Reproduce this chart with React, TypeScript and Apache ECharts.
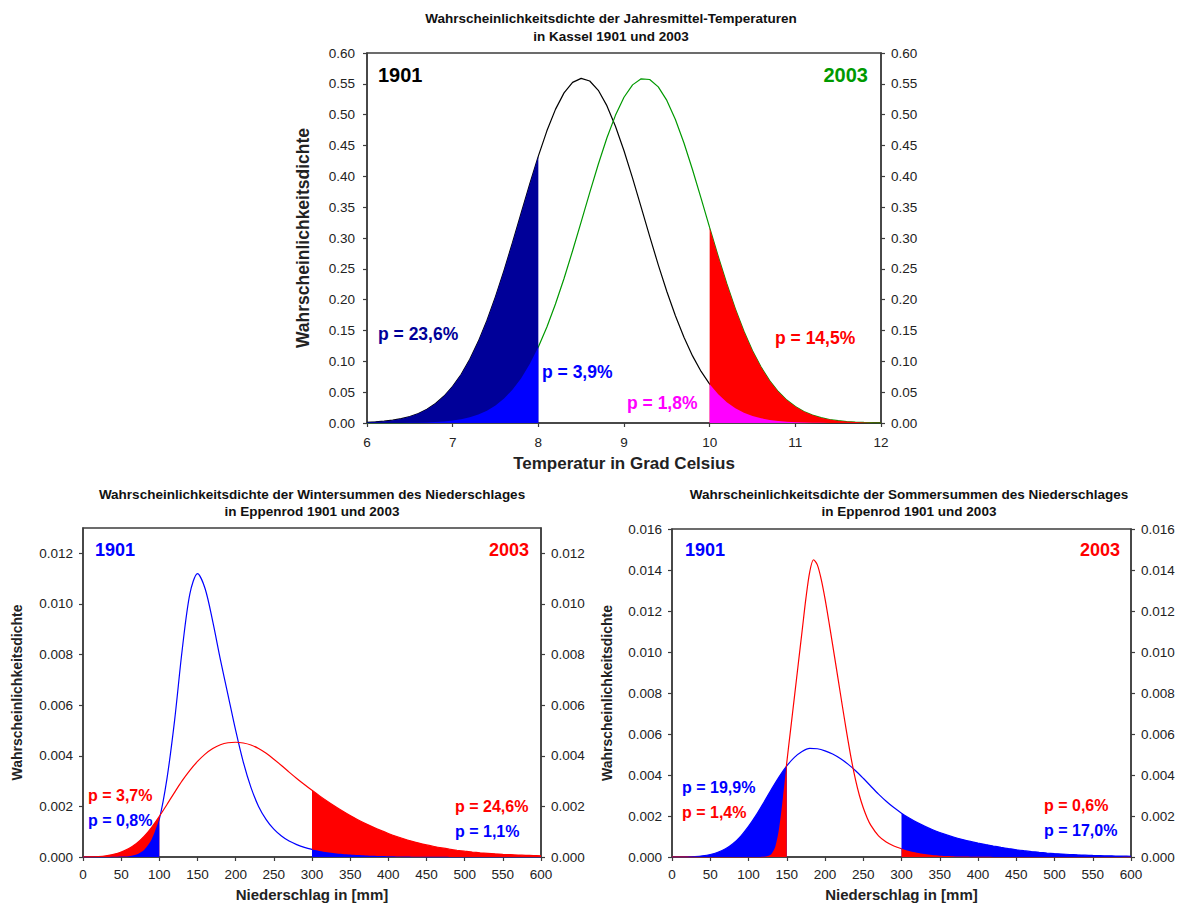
import React, { useEffect, useRef } from 'react';
import * as echarts from 'echarts';

// ---------- data ----------
const tempX = [6.0, 6.1, 6.2, 6.3, 6.4, 6.5, 6.6, 6.7, 6.8, 6.9, 7.0, 7.1, 7.2, 7.3, 7.4, 7.5, 7.6, 7.7, 7.8, 7.9, 8.0, 8.1, 8.2, 8.3, 8.4, 8.5, 8.6, 8.7, 8.8, 8.9, 9.0, 9.1, 9.2, 9.3, 9.4, 9.5, 9.6, 9.7, 9.8, 9.9, 10.0, 10.1, 10.2, 10.3, 10.4, 10.5, 10.6, 10.7, 10.8, 10.9, 11.0, 11.1, 11.2, 11.3, 11.4, 11.5, 11.6, 11.7, 11.8, 11.9, 12.0];
const temp1901 = [0.0011, 0.0019, 0.0029, 0.0046, 0.0070, 0.0105, 0.0155, 0.0223, 0.0315, 0.0437, 0.0594, 0.0791, 0.1034, 0.1324, 0.1664, 0.2050, 0.2476, 0.2932, 0.3405, 0.3877, 0.4328, 0.4738, 0.5086, 0.5353, 0.5524, 0.5589, 0.5546, 0.5395, 0.5146, 0.4813, 0.4414, 0.3970, 0.3500, 0.3026, 0.2565, 0.2132, 0.1738, 0.1389, 0.1088, 0.0836, 0.0630, 0.0465, 0.0337, 0.0239, 0.0167, 0.0114, 0.0076, 0.0050, 0.0032, 0.0020, 0.0013, 0.0008, 0.0005, 0.0003, 0.0002, 0.0001, 0.0000, 0.0000, 0.0000, 0.0000, 0.0000];
const temp2003 = [0.0000, 0.0000, 0.0001, 0.0001, 0.0002, 0.0004, 0.0006, 0.0010, 0.0016, 0.0026, 0.0040, 0.0062, 0.0093, 0.0138, 0.0200, 0.0285, 0.0397, 0.0543, 0.0727, 0.0956, 0.1232, 0.1557, 0.1929, 0.2344, 0.2793, 0.3262, 0.3737, 0.4196, 0.4621, 0.4989, 0.5282, 0.5483, 0.5581, 0.5570, 0.5451, 0.5231, 0.4921, 0.4540, 0.4106, 0.3642, 0.3167, 0.2701, 0.2258, 0.1851, 0.1488, 0.1173, 0.0907, 0.0687, 0.0510, 0.0372, 0.0266, 0.0186, 0.0128, 0.0086, 0.0057, 0.0037, 0.0023, 0.0015, 0.0009, 0.0005, 0.0003];

const rainX = [0, 10, 20, 30, 40, 50, 60, 70, 80, 90, 100, 110, 120, 130, 140, 150, 160, 170, 180, 190, 200, 210, 220, 230, 240, 250, 260, 270, 280, 290, 300, 310, 320, 330, 340, 350, 360, 370, 380, 390, 400, 410, 420, 430, 440, 450, 460, 470, 480, 490, 500, 510, 520, 530, 540, 550, 560, 570, 580, 590, 600];
const winter1901 = [0, 0, 0, 0, 0.00001, 0.00002, 0.00003, 0.0001, 0.00028, 0.0007, 0.0015, 0.0031, 0.0054, 0.0082, 0.0104, 0.0112, 0.0106, 0.0093, 0.0078, 0.0064, 0.0050, 0.00375, 0.00275, 0.0020, 0.00148, 0.0011, 0.00083, 0.00063, 0.00049, 0.00038, 0.0003, 0.00024, 0.00019, 0.00015, 0.00012, 0.000095, 0.000075, 0.00006, 0.000047, 0.000037, 0.000029, 0.000023, 0.000018, 0.000014, 0.000011, 0.000008, 0.000006, 0.000005, 0.000004, 0.000003, 0.000002, 0.000002, 0.000001, 0.000001, 0.000001, 0.000001, 0.000001, 0.000001, 0.000001, 0.000001, 0.000001];
const winter2003 = [0, 0.000005, 0.00002, 0.00005, 0.000105, 0.000195, 0.000335, 0.000535, 0.000815, 0.001175, 0.001605, 0.002075, 0.002555, 0.003015, 0.003425, 0.003775, 0.004065, 0.004285, 0.004435, 0.004515, 0.004535, 0.004505, 0.004425, 0.004285, 0.004095, 0.003865, 0.003615, 0.003355, 0.003105, 0.002865, 0.002635, 0.002415, 0.002205, 0.002005, 0.001815, 0.001635, 0.00147, 0.00132, 0.00118, 0.00105, 0.00093, 0.00082, 0.00072, 0.00063, 0.00055, 0.000478, 0.000414, 0.000358, 0.000309, 0.000266, 0.000229, 0.000197, 0.000169, 0.000145, 0.000124, 0.000106, 0.000091, 0.000078, 0.000067, 0.000058, 0.00005];
const summer1901 = [0, 0, 0.000005, 0.00002, 0.000055, 0.00012, 0.00023, 0.0004, 0.00066, 0.00102, 0.00149, 0.00204, 0.00266, 0.0033, 0.00391, 0.00444, 0.00486, 0.00515, 0.0053, 0.00528, 0.00518, 0.00502, 0.0048, 0.00453, 0.00421, 0.00384, 0.00345, 0.00307, 0.00272, 0.00241, 0.00214, 0.0019, 0.00169, 0.001505, 0.00134, 0.001195, 0.001065, 0.00095, 0.00085, 0.00076, 0.00068, 0.000605, 0.000535, 0.00047, 0.00041, 0.000355, 0.000307, 0.000265, 0.000228, 0.000196, 0.000168, 0.000144, 0.000123, 0.000105, 0.00009, 0.000077, 0.000066, 0.000056, 0.000048, 0.000041, 0.000035];
const summer2003X = [0, 50, 100, 110, 120, 125, 130, 135, 140, 145, 150, 155, 160, 165, 170, 175, 180, 185, 190, 195, 200, 205, 210, 215, 220, 225, 230, 235, 240, 245, 250, 255, 260, 270, 280, 290, 300, 310, 320, 330, 340, 350, 360, 370, 380, 390, 400, 420, 450, 500, 550, 600];
const summer2003 = [0, 0, 0, 0, 0.00001, 0.00005, 0.00015, 0.0005, 0.0014, 0.0029, 0.0046, 0.0062, 0.0078, 0.0094, 0.011, 0.0126, 0.0139, 0.0145, 0.01425, 0.01355, 0.0126, 0.0115, 0.01035, 0.00918, 0.008, 0.00683, 0.0057, 0.00465, 0.00375, 0.003, 0.0024, 0.00192, 0.00154, 0.00103, 0.00073, 0.00054, 0.0004, 0.00029, 0.000205, 0.000142, 0.000098, 0.000067, 0.000045, 0.00003, 0.00002, 0.000013, 0.000008, 0.000003, 0.000001, 0, 0, 0];

const tempYTicks = [0, 0.05, 0.1, 0.15, 0.2, 0.25, 0.3, 0.35, 0.4, 0.45, 0.5, 0.55, 0.6];
const winterYTicks = [0, 0.002, 0.004, 0.006, 0.008, 0.01, 0.012];
const summerYTicks = [0, 0.002, 0.004, 0.006, 0.008, 0.01, 0.012, 0.014, 0.016];

// ---------- helpers ----------
const FONT = '"Liberation Sans", Arial, Helvetica, sans-serif';
const AX = '#3c3c3c';
const TXT = '#222';
const NAVY = '#000099';
const BLUE = '#0000FF';
const RED = '#FF0000';
const MAGENTA = '#FF00FF';
const GREEN = '#009900';
const TICK_FS = 13.5;

const pairs = (xs: number[], ys: number[]) => xs.map((x, i) => [x, ys[i]]);
const part = (xs: number[], ys: number[], a: number, b: number) =>
  pairs(xs, ys).filter((p) => p[0] >= a - 1e-9 && p[0] <= b + 1e-9);

function lineS(g: number, name: string, data: number[][], color: string, smooth: number) {
  return {
    type: 'line', name, xAxisIndex: g, yAxisIndex: g * 2, data, showSymbol: false, symbol: 'none',
    smooth, lineStyle: { color, width: 1.2 }, z: 2, silent: true,
  };
}
function areaS(g: number, name: string, data: number[][], color: string, smooth: number, z: number) {
  return {
    type: 'line', name, xAxisIndex: g, yAxisIndex: g * 2, data, showSymbol: false, symbol: 'none',
    smooth, lineStyle: { width: 0, color }, areaStyle: { color, opacity: 1 }, z, silent: true,
  };
}

function xAxisDef(g: number, min: number, max: number, interval: number, name: string, nameSize: number, nameGap: number, labelMargin: number) {
  return {
    type: 'value', gridIndex: g, min, max, interval, name, nameLocation: 'middle', nameGap,
    nameTextStyle: { fontFamily: FONT, fontWeight: 'bold', fontSize: nameSize, color: TXT },
    axisLine: { show: true, onZero: false, lineStyle: { color: AX, width: 1.5 } },
    axisTick: { show: true, inside: false, length: 4, lineStyle: { color: AX, width: 1.2 } },
    axisLabel: { fontFamily: FONT, fontSize: TICK_FS, color: TXT, margin: labelMargin },
    splitLine: { show: false },
  };
}
function yAxisDef(g: number, pos: string, max: number, ticks: number[], digits: number, name: string, nameSize: number, nameGap: number, labelMargin: number, interval: number) {
  return {
    type: 'value', gridIndex: g, position: pos, min: 0, max, interval,
    name: pos === 'left' ? name : '', nameLocation: 'middle', nameGap, nameRotate: 90,
    nameTextStyle: { fontFamily: FONT, fontWeight: 'bold', fontSize: nameSize, color: TXT },
    axisLine: { show: true, onZero: false, lineStyle: { color: AX, width: 1.5 } },
    axisTick: { show: true, inside: false, length: 4, customValues: ticks, lineStyle: { color: AX, width: 1.2 } },
    axisLabel: {
      fontFamily: FONT, fontSize: TICK_FS, color: TXT, margin: labelMargin, customValues: ticks,
      formatter: (v: number) => v.toFixed(digits),
    },
    splitLine: { show: false },
  };
}

function txt(x: number, y: number, text: string, color: string, size: number, align = 'left', bold = true) {
  return {
    type: 'text', x, y, silent: true,
    style: {
      text, fill: color, font: `${bold ? 'bold ' : ''}${size}px ${FONT}`,
      align, verticalAlign: 'middle', textAlign: align, textVerticalAlign: 'middle',
    },
  };
}

export default function App() {
  const ref = useRef<HTMLDivElement>(null);
  useEffect(() => {
    if (!ref.current) return;
    const chart = echarts.init(ref.current, undefined, { renderer: 'svg' });
    const sT = 0;
    const sR = 0.3;
    const option: any = {
      animation: false,
      backgroundColor: '#ffffff',
      grid: [
        { left: 367, top: 53, width: 514, height: 370, show: true, borderColor: AX, borderWidth: 1.5, backgroundColor: 'transparent' },
        { left: 83, top: 528, width: 458, height: 329, show: true, borderColor: AX, borderWidth: 1.5, backgroundColor: 'transparent' },
        { left: 672, top: 529, width: 459, height: 328, show: true, borderColor: AX, borderWidth: 1.5, backgroundColor: 'transparent' },
      ],
      xAxis: [
        xAxisDef(0, 6, 12, 1, 'Temperatur in Grad Celsius', 17, 32, 12),
        xAxisDef(1, 0, 600, 50, 'Niederschlag in [mm]', 15, 30, 10),
        xAxisDef(2, 0, 600, 50, 'Niederschlag in [mm]', 15, 30, 10),
      ],
      yAxis: [
        yAxisDef(0, 'left', 0.6, tempYTicks, 2, 'Wahrscheinlichkeitsdichte', 17.5, 55, 12, 0.05),
        yAxisDef(0, 'right', 0.6, tempYTicks, 2, '', 17.5, 55, 10, 0.05),
        yAxisDef(1, 'left', 0.013, winterYTicks, 3, 'Wahrscheinlichkeitsdichte', 14, 59, 10, 0.001),
        yAxisDef(1, 'right', 0.013, winterYTicks, 3, '', 14, 59, 10, 0.001),
        yAxisDef(2, 'left', 0.016, summerYTicks, 3, 'Wahrscheinlichkeitsdichte', 14, 58, 10, 0.002),
        yAxisDef(2, 'right', 0.016, summerYTicks, 3, '', 14, 58, 10, 0.002),
      ],
      series: [
        // Temperature, Kassel
        lineS(0, '1901', pairs(tempX, temp1901), '#000000', sT),
        lineS(0, '2003', pairs(tempX, temp2003), GREEN, sT),
        areaS(0, '1901 < 8', part(tempX, temp1901, 6, 8), NAVY, sT, 3),
        areaS(0, '2003 < 8', part(tempX, temp2003, 6, 8), BLUE, sT, 4),
        areaS(0, '2003 > 10', part(tempX, temp2003, 10, 12), RED, sT, 3),
        areaS(0, '1901 > 10', part(tempX, temp1901, 10, 12), MAGENTA, sT, 4),
        // Winter precipitation
        lineS(1, '1901', pairs(rainX, winter1901), BLUE, sR),
        lineS(1, '2003', pairs(rainX, winter2003), RED, sR),
        areaS(1, '2003 < 100', part(rainX, winter2003, 0, 100), RED, sR, 3),
        areaS(1, '1901 < 100', part(rainX, winter1901, 0, 100), BLUE, sR, 4),
        areaS(1, '2003 > 300', part(rainX, winter2003, 300, 600), RED, sR, 3),
        areaS(1, '1901 > 300', part(rainX, winter1901, 300, 600), BLUE, sR, 4),
        // Summer precipitation
        lineS(2, '1901', pairs(rainX, summer1901), BLUE, sR),
        lineS(2, '2003', pairs(summer2003X, summer2003), RED, sR),
        areaS(2, '1901 < 150', part(rainX, summer1901, 0, 150), BLUE, sR, 3),
        areaS(2, '2003 < 150', part(summer2003X, summer2003, 0, 150), RED, sR, 4),
        areaS(2, '1901 > 300', part(rainX, summer1901, 300, 600), BLUE, sR, 3),
        areaS(2, '2003 > 300', part(summer2003X, summer2003, 300, 600), RED, sR, 4),
      ],
      graphic: [
        // titles
        txt(611, 18, 'Wahrscheinlichkeitsdichte der Jahresmittel-Temperaturen', '#111', 13.5, 'center'),
        txt(611, 36, 'in Kassel 1901 und 2003', '#111', 13.5, 'center'),
        txt(312, 494, 'Wahrscheinlichkeitsdichte der Wintersummen des Niederschlages', '#111', 13.5, 'center'),
        txt(312, 511, 'in Eppenrod 1901 und 2003', '#111', 13.5, 'center'),
        txt(909, 494, 'Wahrscheinlichkeitsdichte der Sommersummen des Niederschlages', '#111', 13.5, 'center'),
        txt(909, 511, 'in Eppenrod 1901 und 2003', '#111', 13.5, 'center'),
        // top panel labels
        txt(378, 75, '1901', '#000000', 20),
        txt(868, 75, '2003', GREEN, 20, 'right'),
        txt(378, 334, 'p = 23,6%', NAVY, 17.5),
        txt(542, 372, 'p = 3,9%', BLUE, 17.5),
        txt(627, 403, 'p = 1,8%', MAGENTA, 17.5),
        txt(775, 338, 'p = 14,5%', RED, 17.5),
        // winter labels
        txt(95, 550, '1901', BLUE, 18),
        txt(529, 550, '2003', RED, 18, 'right'),
        txt(88, 795, 'p = 3,7%', RED, 16),
        txt(88, 820, 'p = 0,8%', BLUE, 16),
        txt(455, 806, 'p = 24,6%', RED, 16),
        txt(455, 831, 'p = 1,1%', BLUE, 16),
        // summer labels
        txt(685, 550, '1901', BLUE, 18),
        txt(1120, 550, '2003', RED, 18, 'right'),
        txt(682, 787, 'p = 19,9%', BLUE, 16),
        txt(682, 812, 'p = 1,4%', RED, 16),
        txt(1044, 805, 'p = 0,6%', RED, 16),
        txt(1044, 830, 'p = 17,0%', BLUE, 16),
      ],
    };
    chart.setOption(option);
    return () => chart.dispose();
  }, []);
  return <div ref={ref} style={{ position: 'absolute', left: 0, top: 0, width: 1178, height: 905 }} />;
}
